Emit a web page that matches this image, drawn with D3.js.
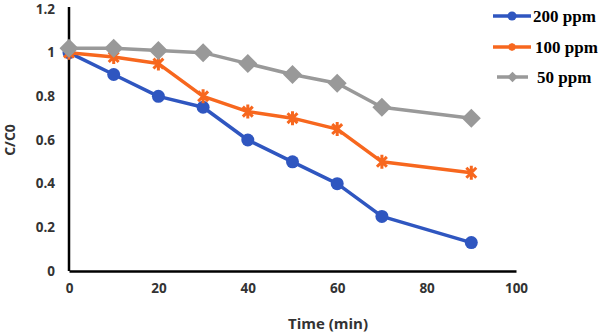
<!DOCTYPE html>
<html><head><meta charset="utf-8">
<script src="https://cdn.jsdelivr.net/npm/d3@7"></script>
<style>body{margin:0;background:#fff}svg{display:block}</style>
</head><body>
<svg id="c" width="603" height="335"></svg>
<script>
const times = [0, 10, 20, 30, 40, 50, 60, 70, 90];
const s200 = [1.0, 0.9, 0.8, 0.75, 0.6, 0.5, 0.4, 0.25, 0.13];
const s100 = [1.0, 0.98, 0.95, 0.8, 0.73, 0.7, 0.65, 0.5, 0.45];
const s50 = [1.02, 1.02, 1.01, 1.0, 0.95, 0.9, 0.86, 0.75, 0.7];
const xTicks = [0, 20, 40, 60, 80, 100];
const yTicks = [0, 0.2, 0.4, 0.6, 0.8, 1, 1.2];
const seriesNames = ["200 ppm", "100 ppm", "50 ppm"];
const colors = ["#2F56C0", "#F7671E", "#999999"];

const svg = d3.select("#c");
const x = d3.scaleLinear().domain([0, 100]).range([69, 516]);
const y = d3.scaleLinear().domain([0, 1.2]).range([271, 9]);

// axes
const xa = svg.append("g").attr("transform", "translate(0,271)")
  .call(d3.axisBottom(x).tickValues(xTicks).tickSize(0).tickPadding(12).tickFormat(d3.format("d")));
const ya = svg.append("g").attr("transform", "translate(69,0)")
  .call(d3.axisLeft(y).tickValues(yTicks).tickSize(0).tickPadding(14).tickFormat(d => d === 0 ? "0" : d === 1 ? "1" : d3.format(".1f")(d)));
[xa, ya].forEach(a => {
  a.select(".domain").attr("stroke", "#000").attr("stroke-width", 2.5);
  a.selectAll("text").attr("font-family", "'Open Sans', sans-serif").attr("font-weight", "bold")
    .attr("font-size", 13.5).attr("fill", "#333");
});
ya.select(".domain").attr("d", `M0,${y(0)}V7`);

svg.append("text").attr("x", 328).attr("y", 329).attr("text-anchor", "middle")
  .attr("font-family", "'Open Sans', sans-serif").attr("font-weight", "bold").attr("font-size", 15).attr("fill", "#333")
  .text("Time (min)");
svg.append("text").attr("transform", "translate(15,140) rotate(-90)").attr("text-anchor", "middle")
  .attr("font-family", "'Open Sans', sans-serif").attr("font-weight", "bold").attr("font-size", 14).attr("fill", "#333")
  .text("C/C0");

const line = d3.line().x(d => x(d[0])).y(d => y(d[1]));
const data = [s200, s100, s50].map(s => times.map((t, i) => [t, s[i]]));

function marker(g, k, cx, cy, scale) {
  scale = scale || 1;
  if (k === 0) {
    g.append("circle").attr("cx", cx).attr("cy", cy).attr("r", 6.5 * scale).attr("fill", colors[0]);
  } else if (k === 1) {
    const r = 7 * scale;
    const d = r * Math.SQRT1_2;
    const p = `M${cx - d},${cy - d}L${cx + d},${cy + d}M${cx + d},${cy - d}L${cx - d},${cy + d}M${cx},${cy - r}L${cx},${cy + r}`;
    g.append("path").attr("d", p).attr("stroke", colors[1]).attr("stroke-width", 3 * Math.max(scale, 0.8)).attr("fill", "none");
  } else {
    const r = 9.5 * scale;
    g.append("path").attr("d", `M${cx},${cy - r}L${cx + r},${cy}L${cx},${cy + r}L${cx - r},${cy}Z`).attr("fill", colors[2]);
  }
}

[0, 1, 2].forEach(k => {
  const g = svg.append("g");
  g.append("path").datum(data[k]).attr("d", line).attr("fill", "none")
    .attr("stroke", colors[k]).attr("stroke-width", 3.5).attr("stroke-linejoin", "round");
  data[k].forEach(d => marker(g, k, x(d[0]), y(d[1])));
});

// legend
const leg = [[493, 531, 16, 533], [493, 531, 47, 535], [497, 528, 77, 537]];
leg.forEach((l, k) => {
  const g = svg.append("g");
  g.append("line").attr("x1", l[0]).attr("x2", l[1]).attr("y1", l[2]).attr("y2", l[2])
    .attr("stroke", colors[k]).attr("stroke-width", 3.5);
  marker(g, k, (l[0] + l[1]) / 2, l[2], k === 0 ? 0.7 : 0.55);
  g.append("text").attr("x", l[3]).attr("y", l[2] + 6).attr("font-family", "'Liberation Serif', serif")
    .attr("font-weight", "bold").attr("font-size", 17).attr("fill", "#000").text(seriesNames[k]);
});
</script>
</body></html>
